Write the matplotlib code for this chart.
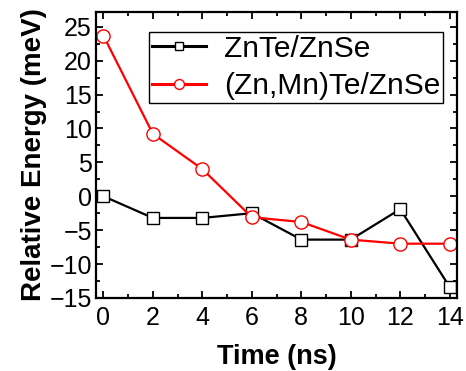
import matplotlib
matplotlib.use('Agg')
import matplotlib.pyplot as plt
from matplotlib.ticker import MultipleLocator

plt.rcParams['font.family'] = ['Liberation Sans', 'DejaVu Sans']

# data
time_ns = [0, 2, 4, 6, 8, 10, 12, 14]
znte = [0.0, -3.2, -3.2, -2.5, -6.4, -6.4, -1.9, -13.4]
znmnte = [23.7, 9.2, 4.0, -3.1, -3.8, -6.4, -7.0, -7.0]
labels = ['ZnTe/ZnSe', '(Zn,Mn)Te/ZnSe']

fig = plt.figure(figsize=(4.66, 3.71), dpi=100)
ax = fig.add_axes([0.206, 0.197, 0.775, 0.771])

ax.plot(time_ns, znte, '-s', color='black', lw=1.6, ms=8, mfc='white',
        mec='black', mew=1.0, label=labels[0])
ax.plot(time_ns, znmnte, '-o', color='red', lw=1.6, ms=9.5, mfc='white',
        mec='red', mew=1.0, label=labels[1])

ax.set_xlim(-0.3, 14.3)
ax.set_ylim(-15, 27.2)
ax.xaxis.set_major_locator(MultipleLocator(2))
ax.xaxis.set_minor_locator(MultipleLocator(1))
ax.yaxis.set_major_locator(MultipleLocator(5))
ax.yaxis.set_minor_locator(MultipleLocator(2.5))
ax.tick_params(which='both', direction='in', top=True, right=True, width=1.3,
               labelsize=18)
ax.tick_params(which='major', length=5)
ax.tick_params(which='minor', length=3)
ax.tick_params(axis='y', pad=3)
ax.tick_params(axis='x', pad=6)
for s in ax.spines.values():
    s.set_linewidth(1.6)

ax.set_xlabel('Time (ns)', fontsize=19.5, fontweight='bold', labelpad=10)
ax.set_ylabel('Relative Energy (meV)', fontsize=20, fontweight='bold', labelpad=2)

leg = ax.legend(loc='upper right', fontsize=21.5, fancybox=False,
                edgecolor='black', framealpha=1, handlelength=1.8,
                handletextpad=0.6, borderpad=0.1, labelspacing=0.32,
                borderaxespad=0, bbox_to_anchor=(0.961, 0.93),
                markerscale=0.75)
leg.get_frame().set_linewidth(1.0)
for h in leg.legend_handles:
    h.set_linewidth(2.2)

fig.savefig('out.png', dpi=100)
